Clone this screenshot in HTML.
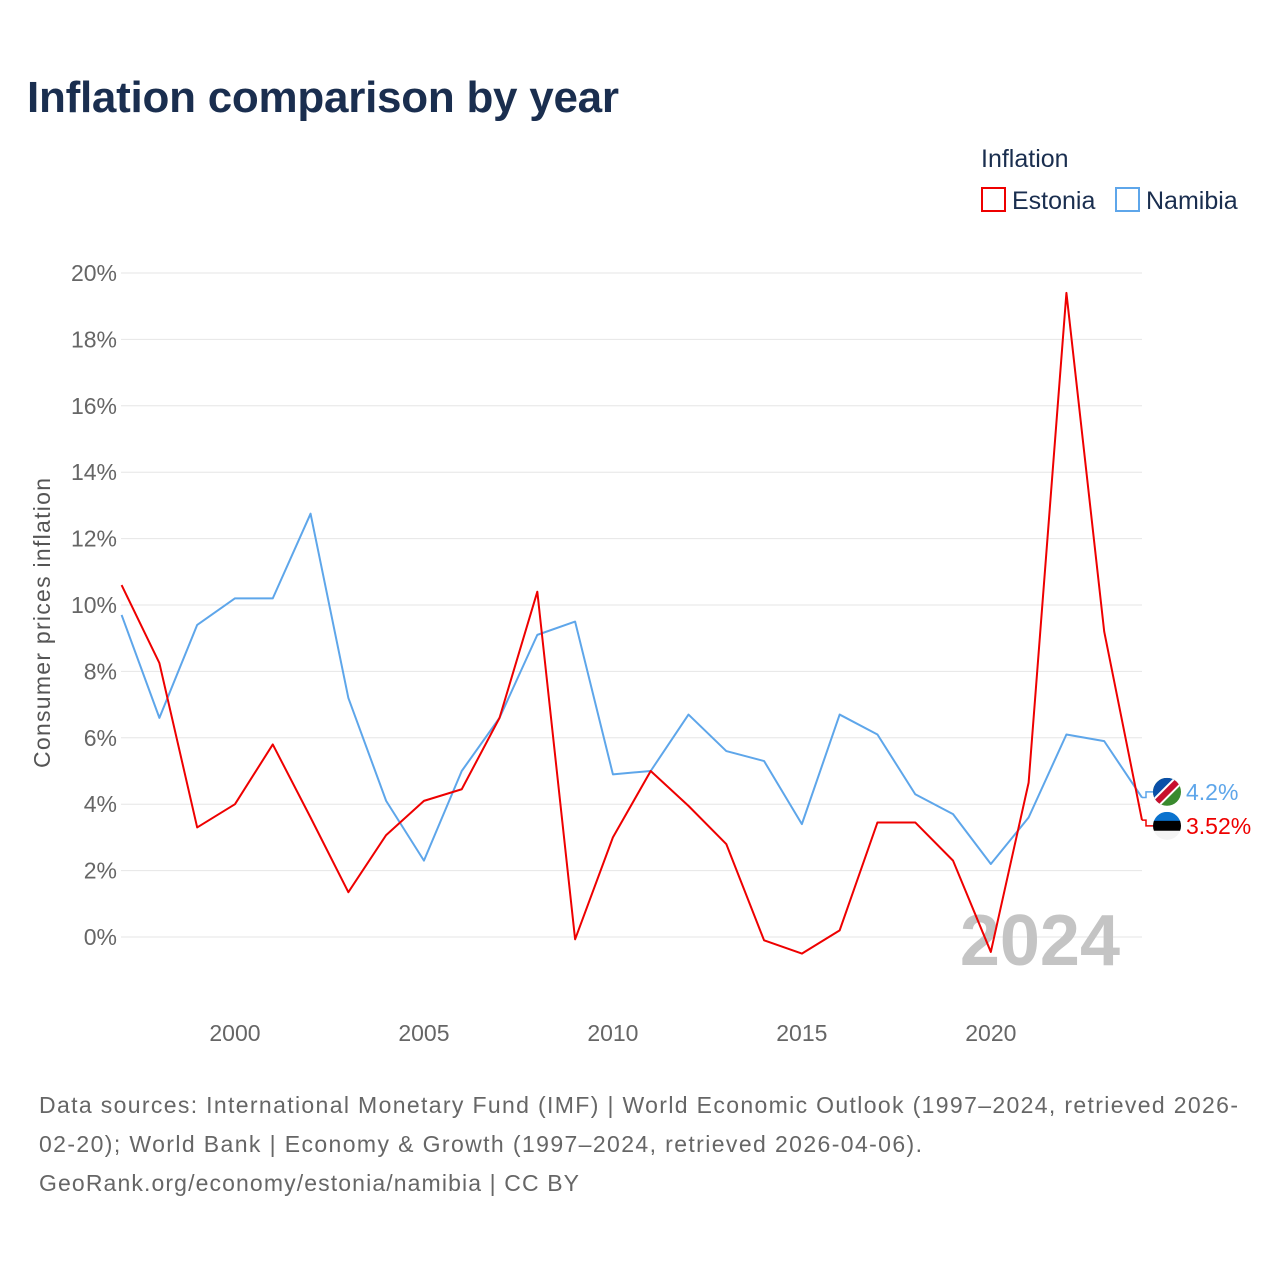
<!DOCTYPE html>
<html><head><meta charset="utf-8"><style>
body{margin:0;background:#fff;font-family:"Liberation Sans",sans-serif;}
svg text{font-family:"Liberation Sans",sans-serif;}
</style></head><body>
<svg id="chart" width="1280" height="1280" viewBox="0 0 1280 1280" xmlns="http://www.w3.org/2000/svg">
<rect width="1280" height="1280" fill="#fff"/>
<text x="27" y="112" font-size="44" font-weight="bold" fill="#1a2e4f" textLength="592">Inflation comparison by year</text>
<text x="981" y="167" font-size="25" fill="#1a2e4f">Inflation</text>
<g><rect x="982" y="188" width="23" height="23" fill="none" stroke="#ee0000" stroke-width="2"/><text x="1012" y="209" font-size="25" fill="#1a2e4f">Estonia</text></g>
<g><rect x="1116" y="188" width="23" height="23" fill="none" stroke="#5ea6ea" stroke-width="2"/><text x="1146" y="209" font-size="25" fill="#1a2e4f">Namibia</text></g>
<text transform="translate(50,623) rotate(-90)" text-anchor="middle" font-size="23" fill="#555" textLength="290">Consumer prices inflation</text>
<g id="grid"></g>
<g id="yticks"></g>
<g id="xticks"></g>
<text x="1120" y="965" text-anchor="end" font-size="72" font-weight="bold" fill="#c4c4c4">2024</text>
<g id="series"></g>
<text font-size="23" fill="#666"><tspan x="39" y="1113" textLength="1199">Data sources: International Monetary Fund (IMF) | World Economic Outlook (1997–2024, retrieved 2026-</tspan><tspan x="39" y="1152" textLength="883">02-20); World Bank | Economy &amp; Growth (1997–2024, retrieved 2026-04-06).</tspan><tspan x="39" y="1191" textLength="540">GeoRank.org/economy/estonia/namibia | CC BY</tspan></text>
</svg>
<script>
const years=[1997,1998,1999,2000,2001,2002,2003,2004,2005,2006,2007,2008,2009,2010,2011,2012,2013,2014,2015,2016,2017,2018,2019,2020,2021,2022,2023,2024];
const estonia=[10.6,8.25,3.3,4.0,5.8,3.6,1.35,3.07,4.1,4.45,6.6,10.4,-0.07,3.0,5.0,3.95,2.8,-0.1,-0.5,0.2,3.45,3.45,2.3,-0.45,4.65,19.4,9.2,3.52];
const namibia=[9.7,6.6,9.4,10.2,10.2,12.75,7.2,4.1,2.3,5.0,6.6,9.1,9.5,4.9,5.0,6.7,5.6,5.3,3.4,6.7,6.1,4.3,3.7,2.2,3.6,6.1,5.9,4.2];
const yTicks=[0,2,4,6,8,10,12,14,16,18,20];
const xTicks=[2000,2005,2010,2015,2020];
const NS="http://www.w3.org/2000/svg";
const xs=y=>121.6+(y-1997)*(1142-121.6)/27;
const ys=v=>937-v*33.2;
function mk(t,a,p){const e=document.createElementNS(NS,t);for(const k in a)e.setAttribute(k,a[k]);p.appendChild(e);return e;}
const grid=document.getElementById('grid'),yt=document.getElementById('yticks'),xt=document.getElementById('xticks'),ser=document.getElementById('series');
yTicks.forEach(v=>{
 const l=mk('line',{x1:121,x2:1142,y1:ys(v),y2:ys(v),stroke:'#e6e6e6','stroke-width':1},grid);
 
 
 const t=mk('text',{x:117,y:ys(v)+8,'text-anchor':'end','font-size':23,fill:'#666'},yt);t.textContent=v+'%';
 
 
});
xTicks.forEach(v=>{
 const t=mk('text',{x:xs(v),y:1041,'text-anchor':'middle','font-size':23,fill:'#666'},xt);t.textContent=v;
 
 
});
function line(vals,color,name){
 const p=mk('polyline',{points:vals.map((v,i)=>xs(years[i])+','+ys(v)).join(' '),fill:'none',stroke:color,'stroke-width':2,'stroke-linejoin':'round'},ser);
 
 
}
line(namibia,'#5ea6ea','namibia-line');
line(estonia,'#ee0000','estonia-line');
const lastN=namibia[namibia.length-1],lastE=estonia[estonia.length-1];
// labels pushed apart to avoid overlap
let ny=ys(lastN),ey=ys(lastE);
const mid=(ny+ey)/2;if(ey-ny<34){ny=mid-17;ey=mid+17;}
mk('polyline',{points:`1142,${ys(lastN)} 1146,${ys(lastN)} 1146,${ny} 1153,${ny}`,fill:'none',stroke:'#5ea6ea','stroke-width':1.5},ser);
mk('polyline',{points:`1142,${ys(lastE)} 1146,${ys(lastE)} 1146,${ey} 1153,${ey}`,fill:'none',stroke:'#ee0000','stroke-width':1.5},ser);
const fN=mk('g',{},ser);


mk('clipPath',{id:'cn'},fN);mk('circle',{cx:1167,cy:ny,r:14},document.getElementById('cn'));
const gN=mk('g',{'clip-path':'url(#cn)'},fN);
mk('rect',{x:1153,y:ny-14,width:28,height:28,fill:'#3a8a2e'},gN);
mk('polygon',{points:`1153,${ny-14} 1181,${ny-14} 1153,${ny+14}`,fill:'#0a4fa8'},gN);
mk('line',{x1:1181,y1:ny-14,x2:1153,y2:ny+14,stroke:'#fff','stroke-width':10},gN);
mk('line',{x1:1181,y1:ny-14,x2:1153,y2:ny+14,stroke:'#c8102e','stroke-width':6},gN);
const fE=mk('g',{},ser);


mk('clipPath',{id:'ce'},fE);mk('circle',{cx:1167,cy:ey,r:14},document.getElementById('ce'));
const gE=mk('g',{'clip-path':'url(#ce)'},fE);
mk('rect',{x:1153,y:ey-14,width:28,height:10,fill:'#0a72ce'},gE);
mk('rect',{x:1153,y:ey-5,width:28,height:10,fill:'#000'},gE);
mk('rect',{x:1153,y:ey+5,width:28,height:10,fill:'#f4f4f4'},gE);
const tN=mk('text',{x:1186,y:ny+8,'font-size':23,fill:'#5ea6ea'},ser);tN.textContent=lastN+'%';


const tE=mk('text',{x:1186,y:ey+8,'font-size':23,fill:'#ee0000'},ser);tE.textContent=lastE+'%';


</script>
</body></html>
